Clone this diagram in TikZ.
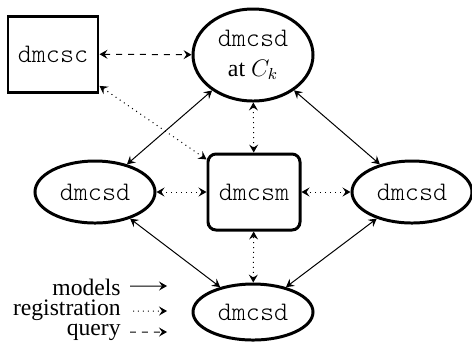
\documentclass[tikz,border=0pt]{standalone}
\usepackage{fontspec}
\setmainfont{Liberation Serif}
\setmonofont[Scale=1.12]{Latin Modern Mono Light}
\usetikzlibrary{arrows.meta, shapes, positioning}

\begin{document}
\begin{tikzpicture}[x=0.5bp, y=-0.5bp,
    >={Stealth[length=4pt, width=4.5pt, inset=1.5pt]},
    every node/.style={font=\fontsize{11.85}{15}\selectfont\rmfamily},
    dmcsNode/.style={ellipse, draw, line width=1.5pt, inner sep=0pt,
        minimum width=60bp, minimum height=31bp, font=\fontsize{12}{15}\selectfont\ttfamily},
    dmcsBox/.style={rectangle, draw, line width=1.5pt, inner sep=0pt,
        minimum width=45bp, minimum height=38bp, font=\fontsize{12}{15}\selectfont\ttfamily},
    modelLink/.style={<->, line width=0.5pt},
    regLink/.style={<->, line width=0.5pt, dotted},
    queryLink/.style={<->, line width=0.5pt, dashed}]
    \useasboundingbox (0,0) rectangle (472,341);

    % nodes
    \node[dmcsBox] (csc) at (53,54) {dmcsc};
    \node[dmcsNode, minimum height=46bp, align=center, font=\fontsize{12}{15}\selectfont\rmfamily] (top) at (253,55) {\texttt{dmcsd}\\{\rmfamily at} $C_k$};
    \node[dmcsBox, minimum width=46bp, rounded corners=4bp] (csm) at (254,192) {dmcsm};
    \node[dmcsNode] (left) at (95,192) {dmcsd};
    \node[dmcsNode] (right) at (412,192) {dmcsd};
    \node[dmcsNode, minimum height=28bp] (bot) at (253,312) {dmcsd};

    % connectors
    \draw[queryLink] (csc) -- (top);
    \draw[regLink] (csc) -- (csm);
    \draw[modelLink] (top) -- (left);
    \draw[modelLink] (top) -- (right);
    \draw[modelLink] (left) -- (bot);
    \draw[modelLink] (right) -- (bot);
    \draw[regLink] (top) -- (csm);
    \draw[regLink] (left) -- (csm);
    \draw[regLink] (right) -- (csm);
    \draw[regLink] (bot) -- (csm);

    % legend
    \node[anchor=base east, inner sep=0pt] (lgModels) at (121,295) {models};
    \node[anchor=base east, inner sep=0pt] (lgReg) at (121,315) {registration};
    \node[anchor=base east, inner sep=0pt] (lgQuery) at (121,335) {query};
    \coordinate (lgModelsEnd) at (167,286);
    \coordinate (lgRegEnd) at (167,311);
    \coordinate (lgQueryEnd) at (167,332);
    \draw[->, line width=0.5pt] ([xshift=4.5bp, yshift=4.5bp]lgModels.base east) -- (lgModelsEnd);
    \draw[->, line width=0.5pt, dotted] ([xshift=6bp, yshift=2bp]lgReg.base east) -- (lgRegEnd);
    \draw[->, line width=0.5pt, dashed] ([xshift=4.5bp, yshift=1.5bp]lgQuery.base east) -- (lgQueryEnd);
\end{tikzpicture}
\end{document}
